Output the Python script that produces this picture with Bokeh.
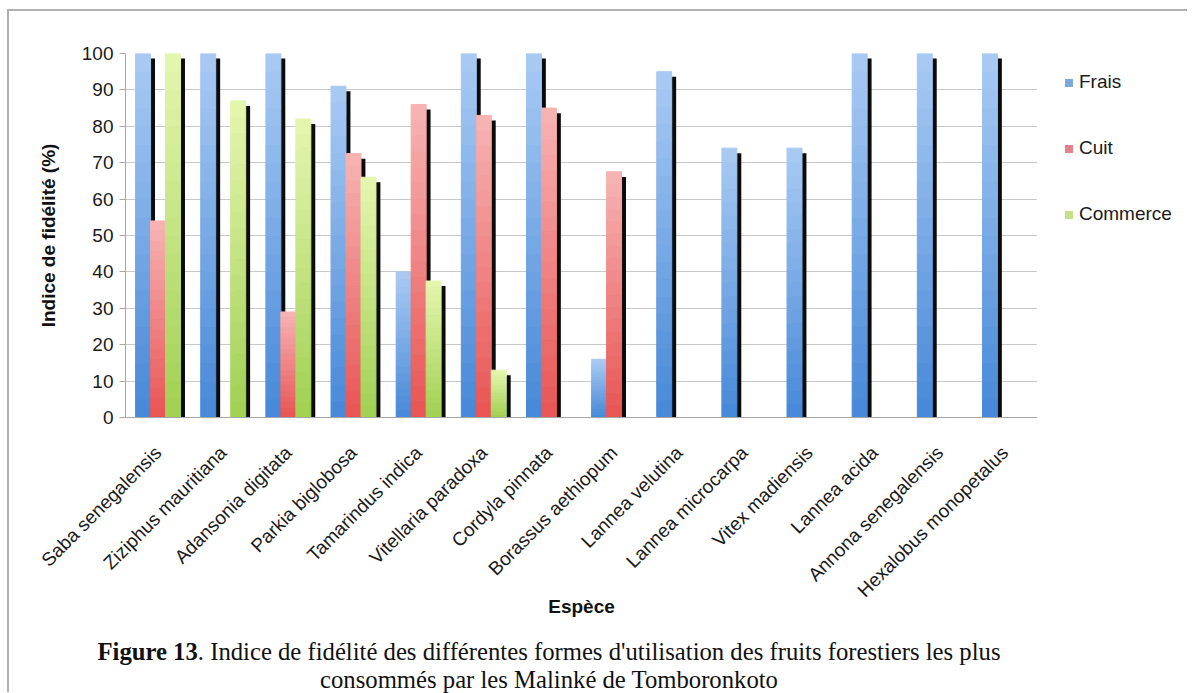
import math
from bokeh.plotting import figure
from bokeh.layouts import column, row
from bokeh.models import (FactorRange, Range1d, ColumnDataSource, FixedTicker, Div, Spacer)
from bokeh.transform import dodge
from bokeh.embed import file_html
from bokeh.resources import INLINE

# ---------------- data ----------------
species = ["Saba senegalensis", "Ziziphus mauritiana", "Adansonia digitata", "Parkia biglobosa",
           "Tamarindus indica", "Vitellaria paradoxa", "Cordyla pinnata", "Borassus aethiopum",
           "Lannea velutina", "Lannea microcarpa", "Vitex madiensis", "Lannea acida",
           "Annona senegalensis", "Hexalobus monopetalus"]
frais = [100, 100, 100, 91, 40, 100, 100, 16, 95, 74, 74, 100, 100, 100]
cuit = [54, 0, 29, 72.5, 86, 83, 85, 67.5, 0, 0, 0, 0, 0, 0]
commerce = [100, 87, 82, 66, 37.5, 13, 0, 0, 0, 0, 0, 0, 0, 0]
series_names = ["Frais", "Cuit", "Commerce"]
y_ticks = [0, 10, 20, 30, 40, 50, 60, 70, 80, 90, 100]
caption_bold = "Figure 13"
caption_rest = ". Indice de fidélité des différentes formes d'utilisation des fruits forestiers les plus"
caption_line2 = "consommés par les Malinké de Tomboronkoto"

# ---------------- styling ----------------
SANS = "Liberation Sans"
grad = {  # (top colour, bottom colour)
    "Frais": ((170, 203, 243), (70, 136, 216)),
    "Cuit": ((247, 180, 180), (232, 84, 84)),
    "Commerce": ((230, 246, 176), (160, 208, 82)),
}
swatch = {"Frais": "#7ea7da", "Cuit": "#e2818c", "Commerce": "#c6e08a"}
BAR_W = 0.23
offsets = [-0.23, 0.0, 0.23]
SH_DX = 0.068
SH_DY = 1.4
N_SL = 20

# page geometry (page has no margin in the viewer)
OX, OY = 9, 11               # top-left of content inside the grey panel border
FRAME_L, FRAME_T, FRAME_R, FRAME_B = 125, 53, 1037, 417
FIG_B = 638                  # bottom of the chart canvas (caption below)
W = FRAME_R - OX
H = FIG_B - OY
LEFT = FRAME_L - OX
TOP = FRAME_T - OY
FRAME_H = FRAME_B - FRAME_T
BOTTOM = H - TOP - FRAME_H

p = figure(width=W, height=H, x_range=FactorRange(*species, range_padding=0),
           y_range=Range1d(0, 100), output_backend="svg", toolbar_location=None,
           min_border_left=LEFT, min_border_right=0, min_border_top=TOP,
           min_border_bottom=BOTTOM, background_fill_color="white",
           border_fill_color="white")
p.outline_line_color = None
p.xgrid.grid_line_color = None
p.ygrid.grid_line_color = "#c9c9c9"
p.ygrid.grid_line_width = 1


def hexcol(c):
    return "#%02x%02x%02x" % tuple(int(round(v)) for v in c)


for name, vals, off in zip(series_names, [frais, cuit, commerce], offsets):
    # shadow
    sx, stop = [], []
    for s, v in zip(species, vals):
        if v > 0:
            sx.append(s)
            stop.append(max(v - SH_DY, 0))
    p.vbar(x=dodge("x", off + SH_DX, range=p.x_range), top="top", bottom=0, width=BAR_W,
           source=ColumnDataSource(dict(x=sx, top=stop)), fill_color="#0b0b0b",
           line_color=None)
    # gradient bar
    top_c, bot_c = grad[name]
    xs, bots, tops, cols = [], [], [], []
    for s, v in zip(species, vals):
        if v <= 0:
            continue
        for k in range(N_SL):
            t = (k + 0.5) / N_SL
            c = [b + (tc - b) * t for tc, b in zip(top_c, bot_c)]
            xs.append(s)
            bots.append(v * k / N_SL)
            tops.append(v * (k + 1) / N_SL)
            cols.append(hexcol(c))
    p.vbar(x=dodge("x", off, range=p.x_range), top="top", bottom="bottom", width=BAR_W,
           source=ColumnDataSource(dict(x=xs, top=tops, bottom=bots, c=cols)),
           fill_color="c", line_color="c", line_width=1, legend_label=name)

p.legend.visible = False   # the visible legend is drawn in the panel at the right

# axes
p.yaxis.ticker = FixedTicker(ticks=y_ticks)
for ax in (p.xaxis[0], p.yaxis[0]):
    ax.axis_line_color = "#a6a6a6"
    ax.major_label_text_font = SANS
    ax.major_label_text_font_size = "19px"
    ax.major_label_text_color = "#1a1a1a"
    ax.axis_label_text_font = SANS
    ax.axis_label_text_font_size = "19px"
    ax.axis_label_text_font_style = "bold"
    ax.axis_label_text_color = "#111111"
    ax.minor_tick_line_color = None

p.yaxis.major_tick_line_color = "#a6a6a6"
p.yaxis.major_tick_out = 6
p.yaxis.major_tick_in = 0
p.yaxis.major_label_standoff = 6
p.yaxis.axis_label = "Indice de fidélité (%)"
p.yaxis.axis_label_standoff = 20

p.xaxis.major_tick_line_color = None
p.xaxis.major_label_orientation = math.pi / 4
p.xaxis.major_label_standoff = 26
p.xaxis.axis_label = "Espèce"
p.xaxis.axis_label_standoff = -15

# legend panel to the right of the plot area (HTML, real text)
LW = 150
entries = "".join(
    f'<div style="height:66px;line-height:66px;white-space:nowrap">'
    f'<span style="display:inline-block;width:8px;height:8px;background:{swatch[n]};'
    f'margin-right:6px;vertical-align:middle"></span>{n}</div>'
    for n in series_names)
legend_div = Div(
    text=entries, width=LW, height=H,
    styles={"font-family": "'Liberation Sans', sans-serif", "font-size": "19px",
            "color": "#1a1a1a", "padding-left": f"{1065 - FRAME_R}px",
            "padding-top": f"{82 - 33 - OY}px", "box-sizing": "border-box",
            "margin": "0"},
)

caption = Div(
    text=f"<b>{caption_bold}</b>{caption_rest}<br>{caption_line2}",
    width=2 * (549 - OX), height=54,
    styles={"font-family": "'Liberation Serif', serif", "font-size": "24.7px",
            "line-height": "27.5px", "text-align": "center", "color": "#111111",
            "white-space": "nowrap", "margin": "0", "padding": "0"},
)

inner = column(row(p, legend_div, spacing=0), caption, spacing=0,
               styles={"border-left": "2px solid #b0b0b0",
                       "border-top": "2px solid #b0b0b0",
                       "background-color": "white"})
page = column(Spacer(height=OY - 2, width=10),
              row(Spacer(width=OX - 2, height=10), inner, spacing=0),
              spacing=0)

open("out.html", "w").write(file_html(page, INLINE))
